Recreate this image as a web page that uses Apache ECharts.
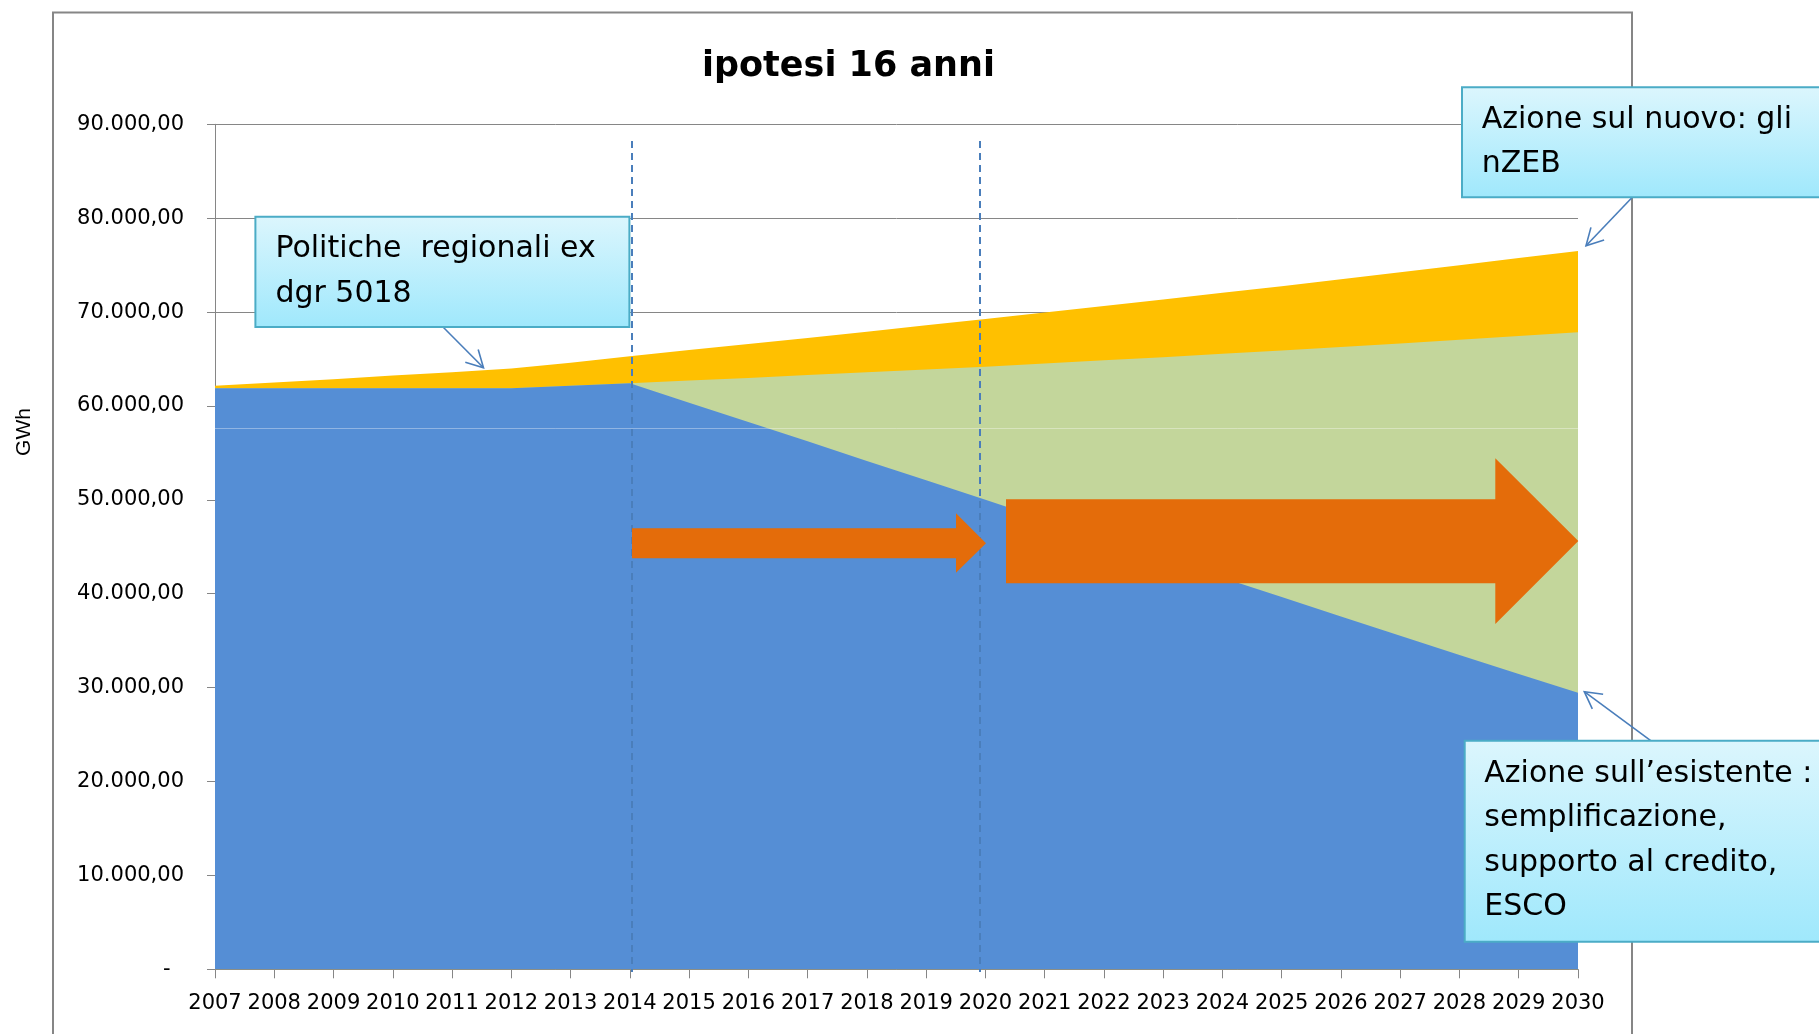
<!DOCTYPE html>
<html>
<head>
<meta charset="utf-8">
<title>ipotesi 16 anni</title>
<script src="https://cdn.jsdelivr.net/npm/echarts@6/dist/echarts.min.js"></script>
<style>
  html, body { margin: 0; padding: 0; background: #fff; }
  #chart { width: 1819px; height: 1034px; }
</style>
</head>
<body>
<div id="chart"></div>
<script>
// anni sull'asse x
const anni = ['2007', '2008', '2009', '2010', '2011', '2012', '2013', '2014', '2015', '2016', '2017', '2018',
  '2019', '2020', '2021', '2022', '2023', '2024', '2025', '2026', '2027', '2028', '2029', '2030']
// consumo totale (area arancio)
const totale = [62150, 62500, 62850, 63250, 63600, 64000, 64600, 65300, 65950, 66600, 67250, 67900,
  68600, 69250, 69950, 70650, 71350, 72050, 72750, 73500, 74250, 75000, 75750, 76500]
// dopo l'azione sul nuovo (area verde)
const conNuovo = [61880, 61880, 61880, 61880, 61880, 61880, 62150, 62410, 62700, 62990, 63290, 63580,
  63880, 64180, 64520, 64860, 65200, 65550, 65900, 66280, 66660, 67050, 67440, 67840]
// dopo l'azione sull'esistente (area blu)
const esistente = [61880, 61880, 61880, 61880, 61880, 61880, 62150, 62410, 60350, 58290, 56230, 54150,
  52080, 50000, 47920, 45850, 43780, 41700, 39650, 37580, 35520, 33480, 31460, 29460]

const FONT = '"DejaVu Sans", sans-serif'
const GRIGIO = '#868686'

const fmtIt = v => {
  if (v === 0) return '-  '
  return v.toLocaleString('it-IT', { minimumFractionDigits: 2, maximumFractionDigits: 2 })
    .replace(/(\d)(?=(\d{3})+,)/g, '$1.')
}

// freccia di richiamo (linea + punta aperta)
function richiamo(x1, y1, x2, y2) {
  const a = Math.atan2(y1 - y2, x1 - x2)
  const l = 19, w = 0.5
  return [
    { type: 'line', z: 15, shape: { x1, y1, x2, y2 }, style: { stroke: '#4a7ebb', lineWidth: 1.6 } },
    {
      type: 'polyline', z: 15,
      shape: { points: [[x2 + l * Math.cos(a + w), y2 + l * Math.sin(a + w)], [x2, y2], [x2 + l * Math.cos(a - w), y2 + l * Math.sin(a - w)]] },
      style: { stroke: '#4a7ebb', lineWidth: 1.6, fill: null }
    }
  ]
}

function box(x, y, w, h, testo, tx, ty, lh) {
  return [
    {
      type: 'rect', z: 20,
      shape: { x, y, width: w, height: h },
      style: {
        fill: new echarts.graphic.LinearGradient(0, 0, 0, 1, [
          { offset: 0, color: '#dcf6fd' }, { offset: 1, color: '#9fe8fc' }
        ]),
        stroke: '#4bacc6', lineWidth: 2
      }
    },
    {
      type: 'text', z: 21,
      style: { text: testo, x: tx, y: ty, fontSize: 30, fontFamily: FONT, fill: '#000', lineHeight: lh, verticalAlign: 'top' }
    }
  ]
}

function frecciaGrossa(x0, yt, yb, xh, yht, yhb, xt, yc) {
  return {
    type: 'polygon', z: 12,
    shape: { points: [[x0, yt], [xh, yt], [xh, yht], [xt, yc], [xh, yhb], [xh, yb], [x0, yb]] },
    style: { fill: '#e46c0a' }
  }
}

const myChart = echarts.init(document.getElementById('chart'))
const option = {
  animation: false,
  backgroundColor: '#fff',
  title: {
    text: 'ipotesi 16 anni',
    left: 697,
    top: 44,
    textStyle: { fontSize: 35, fontWeight: 'bold', fontFamily: FONT, color: '#000' }
  },
  grid: { left: 215, right: 241, top: 124.3, bottom: 64.7, containLabel: false },
  xAxis: {
    type: 'category',
    data: anni,
    boundaryGap: false,
    axisLine: { lineStyle: { color: GRIGIO, width: 1 } },
    axisTick: { show: true, length: 9, interval: 0, lineStyle: { color: GRIGIO } },
    axisLabel: { interval: 0, margin: 24, fontSize: 21, fontFamily: FONT, color: '#000' },
    splitLine: { show: false }
  },
  yAxis: {
    type: 'value',
    min: 0,
    max: 90000,
    interval: 10000,
    axisLine: { show: true, lineStyle: { color: GRIGIO, width: 1 } },
    axisTick: { show: true, length: 8, lineStyle: { color: GRIGIO } },
    axisLabel: { margin: 31, fontSize: 21, fontFamily: FONT, color: '#000', formatter: fmtIt },
    splitLine: { show: true, lineStyle: { color: GRIGIO, width: 1 } }
  },
  series: [
    {
      name: 'totale', type: 'line', data: totale, showSymbol: false, symbol: 'none',
      lineStyle: { width: 0 }, areaStyle: { color: '#ffc000', opacity: 1 }, z: 2
    },
    {
      name: 'azione sul nuovo', type: 'line', data: conNuovo, showSymbol: false, symbol: 'none',
      lineStyle: { width: 0 }, areaStyle: { color: '#c3d69b', opacity: 1 }, z: 3
    },
    {
      name: 'azione sull\u2019esistente', type: 'line', data: esistente, showSymbol: false, symbol: 'none',
      lineStyle: { width: 0 }, areaStyle: { color: '#558ed5', opacity: 1 }, z: 4
    }
  ],
  graphic: [
    // cornice del grafico
    { type: 'rect', z: 1, silent: true, shape: { x: 53, y: 12.5, width: 1579, height: 1040 }, style: { fill: null, stroke: GRIGIO, lineWidth: 2 } },
    // titolo asse y
    {
      type: 'text', z: 5, x: 24, y: 432, rotation: Math.PI / 2,
      style: { text: 'GWh', fontSize: 21, fontFamily: '"Liberation Sans", sans-serif', fill: '#000', align: 'center', verticalAlign: 'middle' }
    },
    // linea chiara sottile
    { type: 'line', z: 11, shape: { x1: 215, y1: 428.5, x2: 1578, y2: 428.5 }, style: { stroke: 'rgba(255,255,255,0.35)', lineWidth: 1 } },
    // linee tratteggiate 2014 / 2020
    { type: 'line', z: 11, shape: { x1: 632, y1: 141, x2: 632, y2: 972 }, style: { stroke: '#4a7ebb', lineWidth: 2, lineDash: [7, 5] } },
    { type: 'line', z: 11, shape: { x1: 980, y1: 141, x2: 980, y2: 972 }, style: { stroke: '#4a7ebb', lineWidth: 2, lineDash: [7, 5] } },
    // frecce arancio
    frecciaGrossa(632, 528.3, 558.3, 956, 513.3, 572.7, 986, 543.3),
    frecciaGrossa(1006, 499.3, 583.3, 1495.3, 458.3, 624, 1578.3, 541),
    // riquadri di testo
    ...box(255.4, 216.7, 374, 110.3, 'Politiche  regionali ex\ndgr 5018', 275.4, 227, 45),
    ...box(1462, 87.3, 380, 110, 'Azione sul nuovo: gli\nnZEB', 1481.7, 98, 44),
    ...box(1464.7, 740.7, 380, 201, 'Azione sull\u2019esistente :\nsemplificazione,\nsupporto al credito,\nESCO', 1484.3, 752, 44.4),
    ...richiamo(443, 327, 483.5, 367.7),
    ...richiamo(1632.3, 197.3, 1586, 245.7),
    ...richiamo(1650.7, 740.7, 1584.3, 691.7)
  ]
}
myChart.setOption(option)
</script>
</body>
</html>
